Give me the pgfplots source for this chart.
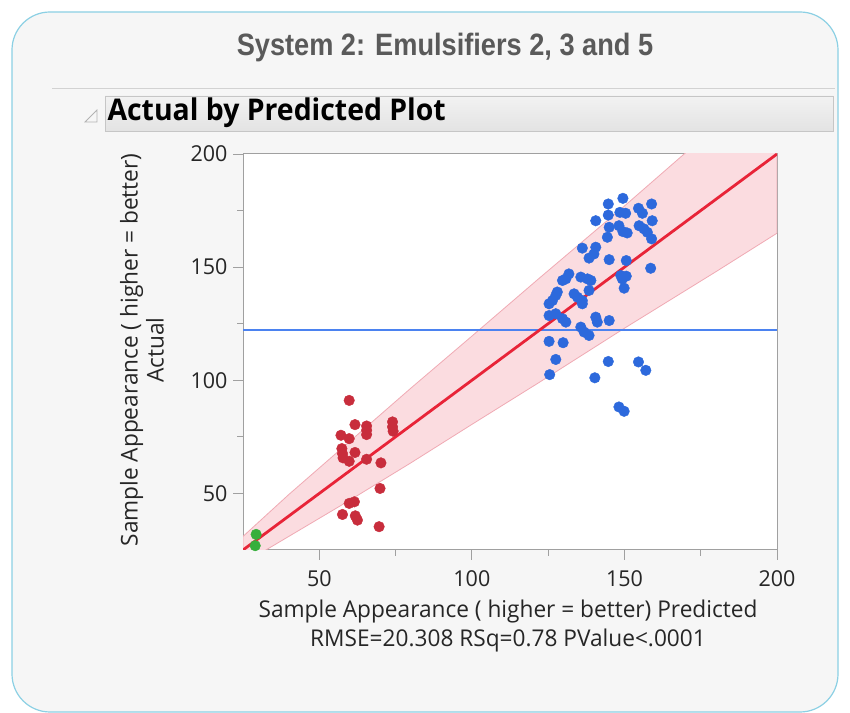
\documentclass[border=0pt]{standalone}
\usepackage{pgfplots}
\pgfplotsset{compat=1.18}
\usepackage{fontspec}
\setmainfont{Open Sans}[FakeStretch=0.98]
\newfontfamily\headfont{Open Sans}[FakeStretch=0.95]
\newfontfamily\titlefont{Liberation Sans}[FakeStretch=0.88]
\definecolor{boxborder}{RGB}{140,208,228}
\definecolor{bgc}{RGB}{246,246,246}
\definecolor{titlegray}{RGB}{90,90,90}
\definecolor{ptred}{RGB}{200,45,60}
\definecolor{ptblue}{RGB}{45,105,220}
\definecolor{ptgreen}{RGB}{55,175,60}
\definecolor{linered}{RGB}{232,36,56}
\definecolor{bandfill}{RGB}{251,220,224}
\definecolor{bandedge}{RGB}{240,170,180}
\definecolor{meanblue}{RGB}{75,130,240}
\definecolor{axgray}{RGB}{160,160,160}
\begin{document}
\begin{tikzpicture}[x=1bp,y=1bp]
\useasboundingbox (0,0) rectangle (850,713);
\fill[white] (0,0) rectangle (850,713);
\draw[boxborder, line width=1.2bp, fill=bgc, rounded corners=38bp] (12,1) rectangle (838,701);
\node[text=titlegray, font=\titlefont\bfseries\fontsize{31}{31}\selectfont] at (445,665) {System 2: Emulsifiers 2, 3 and 5};
\draw[gray!35, line width=0.8bp] (52,625) -- (835,625);
\draw[draw=gray!45, top color=gray!10, bottom color=gray!22] (105,582) rectangle (833,617);
\draw[gray!60, line width=0.8bp] (85,591) -- (97,591) -- (97,603) -- cycle;
\node[anchor=west, font=\headfont\bfseries\fontsize{30}{30}\selectfont] at (104,600) {Actual by Predicted Plot};
\begin{axis}[
  at={(243bp,163bp)}, anchor=south west, scale only axis,
  width=534bp, height=396bp,
  xmin=25, xmax=200, ymin=25, ymax=200,
  xtick={50,100,150,200}, ytick={50,100,150,200},
  minor xtick={75,125,175}, minor ytick={75,125,175},
  xtick pos=bottom, ytick pos=left, tick align=outside,
  major tick length=10bp, minor tick length=6bp,
  every tick/.style={axgray, line width=0.8bp},
  axis line style={axgray, line width=1bp},
  axis background/.style={fill=white},
  ticklabel style={font=\fontsize{22}{22}\selectfont, text=black!85},
  xticklabel style={yshift=-7bp},
  yticklabel style={xshift=-2bp},
  /pgf/number format/assume math mode=true,
  clip=true,
]
\addplot[fill=bandfill, draw=bandedge, line width=0.8bp] coordinates {
 (25,31) (40,49.5) (60,73) (80,96.5) (100,119.5) (122,145) (150,177) (170,200.5) (185,218)
 (200,235) (200,165) (180,148) (150,123) (122,99) (100,80.5) (80,63.5) (60,47) (40,31) (25,19)
} -- cycle;
\addplot[meanblue, line width=2bp] coordinates {(25,122) (200,122)};
\addplot[linered, line width=2.8bp] coordinates {(25,25) (200,200)};
\addplot[only marks, mark=*, mark size=5.3bp, mark options={draw=ptred, fill=ptred}] coordinates {
 (59.8,91.1) (61.7,80.4) (65.5,79.8) (65.5,77.9) (65.5,76.0)
 (74.0,81.6) (74.0,79.4) (74.2,77.5) (57.1,75.7) (59.8,74.2)
 (57.4,69.8) (57.6,67.6) (57.8,65.7) (61.7,68.1) (59.8,64.2)
 (65.5,65.1) (70.2,63.5) (69.9,52.2) (59.8,45.6) (61.5,46.3)
 (57.6,40.7) (61.8,40.1) (62.5,38.2) (69.6,35.3)
};
\addplot[only marks, mark=*, mark size=5.3bp, mark options={draw=ptgreen, fill=ptgreen}] coordinates {
 (29.3,31.9) (29.0,26.9)
};
\addplot[only marks, mark=*, mark size=5.3bp, mark options={draw=ptblue, fill=ptblue}] coordinates {
 (149.5,180.4) (144.7,177.9) (158.9,177.9) (154.6,176.0) (148.5,174.2)
 (150.4,173.8) (144.7,173.0) (155.9,173.8) (140.6,170.5) (159.1,170.5)
 (145.0,167.6) (148.2,168.3) (154.8,168.3) (156.4,166.9) (149.5,165.7)
 (150.9,165.1) (144.4,163.2) (157.5,165.4) (158.9,162.5) (136.2,158.4)
 (140.6,158.8) (140.0,155.8) (138.4,154.0) (145.0,153.3) (150.6,152.9)
 (158.6,149.5) (131.8,147.0) (130.8,144.8) (129.7,144.1) (135.7,145.6)
 (137.9,144.8) (139.0,144.1) (148.8,146.3) (150.6,146.0) (149.3,144.8)
 (138.4,139.7) (149.9,140.7) (128.0,139.0) (127.5,137.5) (126.4,135.2)
 (125.3,133.8) (133.5,138.2) (134.6,136.7) (136.2,135.2) (136.2,133.8)
 (125.3,128.6) (127.5,129.4) (129.7,127.2) (130.8,125.7) (140.6,127.9)
 (141.1,125.7) (145.0,126.4) (135.7,123.5) (136.8,121.3) (138.4,119.8)
 (125.3,117.2) (129.9,116.6) (127.5,109.2) (144.7,108.3) (154.6,108.1)
 (157.0,104.4) (125.5,102.5) (140.3,101.1) (148.2,88.2) (149.9,86.3)
};
\end{axis}
\node[rotate=90, align=center, font=\fontsize{23.2}{26}\selectfont, text=black!85] at (142,363) {Sample Appearance ( higher = better)\\Actual};
\node[align=center, font=\fontsize{23.2}{30}\selectfont, text=black!85] at (508,87) {Sample Appearance ( higher = better) Predicted\\RMSE=20.308 RSq=0.78 PValue<.0001};
\end{tikzpicture}
\end{document}
